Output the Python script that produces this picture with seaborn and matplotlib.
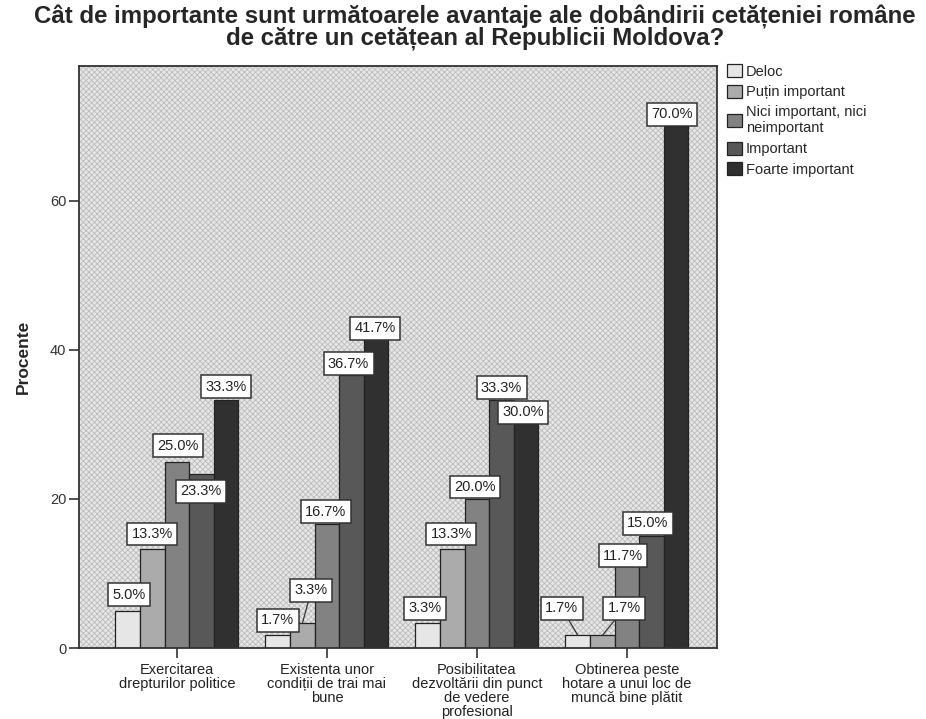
import matplotlib
matplotlib.use("Agg")
import matplotlib.pyplot as plt
from matplotlib.patches import Rectangle
import seaborn as sns
import pandas as pd

# chart data
categories = [
    "Exercitarea\ndrepturilor politice",
    "Existenta unor\ncondiții de trai mai\nbune",
    "Posibilitatea\ndezvoltării din punct\nde vedere\nprofesional",
    "Obtinerea peste\nhotare a unui loc de\nmuncă bine plătit",
]
levels = ["Deloc", "Puțin important", "Nici important, nici\nneimportant",
          "Important", "Foarte important"]
deloc = [5.0, 1.7, 3.3, 1.7]
putin = [13.3, 3.3, 13.3, 1.7]
nici = [25.0, 16.7, 20.0, 11.7]
important = [23.3, 36.7, 33.3, 15.0]
foarte = [33.3, 41.7, 30.0, 70.0]
yticks = [0, 20, 40, 60]

series = [deloc, putin, nici, important, foarte]
rows = []
for lev, vals in zip(levels, series):
    for cat, v in zip(categories, vals):
        rows.append({"cat": cat, "level": lev, "pct": v})
df = pd.DataFrame(rows)

palette = ["#e6e6e6", "#ababab", "#828282", "#585858", "#303030"]

# label offsets in pixels (dx, dy up) from the top of each bar
offsets = [
    [(1, 16), (0, 15), (-3, 15), (-16, 27)],
    [(0, 15), (9, 33), (-1, 15), (22, 27)],
    [(1, 16), (-1, 12), (-2, 12), (-4, 5)],
    [(-1, -17), (-3, 11), (0, 12), (-4, 13)],
    [(0, 13), (-1, 9), (-3, 12), (-4, 12)],
]
leaders = {(1, 1), (0, 3), (1, 3)}

sns.set_style("white")
plt.rcParams["font.family"] = ["Liberation Sans", "DejaVu Sans"]
plt.rcParams["hatch.linewidth"] = 0.6

fig = plt.figure(figsize=(9.26, 7.19), dpi=100)
ax = fig.add_axes([79 / 926, 1 - 648 / 719, 638 / 926, 582 / 719])

# stippled plot background
ax.add_patch(Rectangle((0, 0), 1, 1, transform=ax.transAxes, facecolor="#e6e6e6",
                       edgecolor="#bcbcbc", hatch="xxxxxx", lw=0, zorder=0))

sns.barplot(data=df, x="cat", y="pct", hue="level", hue_order=levels,
            palette=palette, edgecolor="#222222", linewidth=0.9,
            width=0.82, ax=ax, zorder=2, legend=True)

for i, cont in enumerate(ax.containers):
    for j, bar in enumerate(cont):
        x = bar.get_x() + bar.get_width() / 2
        h = bar.get_height()
        dx, dy = offsets[i][j]
        ap = None
        if (i, j) in leaders:
            ap = dict(arrowstyle="-", color="#333333", lw=0.9, shrinkA=0, shrinkB=0)
        ax.annotate(f"{h:.1f}%", xy=(x, h), xytext=(dx, dy), textcoords="offset pixels",
                    ha="center", va="center", fontsize=10.5, color="#222222", zorder=5,
                    bbox=dict(boxstyle="square,pad=0.3", fc="white", ec="#333333", lw=1.1),
                    arrowprops=ap)

ax.set_xlim(-0.653, 3.6)
ax.set_ylim(0, 78.1)
ax.set_yticks(yticks)
ax.set_yticklabels([str(t) for t in yticks], fontsize=10.5, color="#333333")
ax.set_xticks(range(len(categories)))
ax.set_xticklabels(categories, fontsize=10.5, color="#222222", linespacing=1.0)
ax.tick_params(axis="both", direction="out", length=7, width=1.2, color="#333333",
               bottom=True, left=True, pad=2)
ax.tick_params(axis="x", pad=4)
ax.set_xlabel("")
ax.set_ylabel("Procente", fontsize=12.5, fontweight="bold", labelpad=14)
for s in ax.spines.values():
    s.set_visible(True)
    s.set_color("#333333")
    s.set_linewidth(1.3)

leg = ax.legend(loc="upper left", bbox_to_anchor=(727 / 926, 1 - 64 / 719),
                bbox_transform=fig.transFigure, frameon=False, fontsize=10.5,
                handlelength=1.0, handleheight=1.0, handletextpad=0.3,
                labelspacing=0.42, borderaxespad=0, borderpad=0)

fig.suptitle("Cât de importante sunt următoarele avantaje ale dobândirii cetățeniei române\n"
             "de către un cetățean al Republicii Moldova?",
             x=475 / 926, y=0.993, fontsize=17.3, fontweight="bold", linespacing=0.88)

fig.savefig("out.png", dpi=100)
